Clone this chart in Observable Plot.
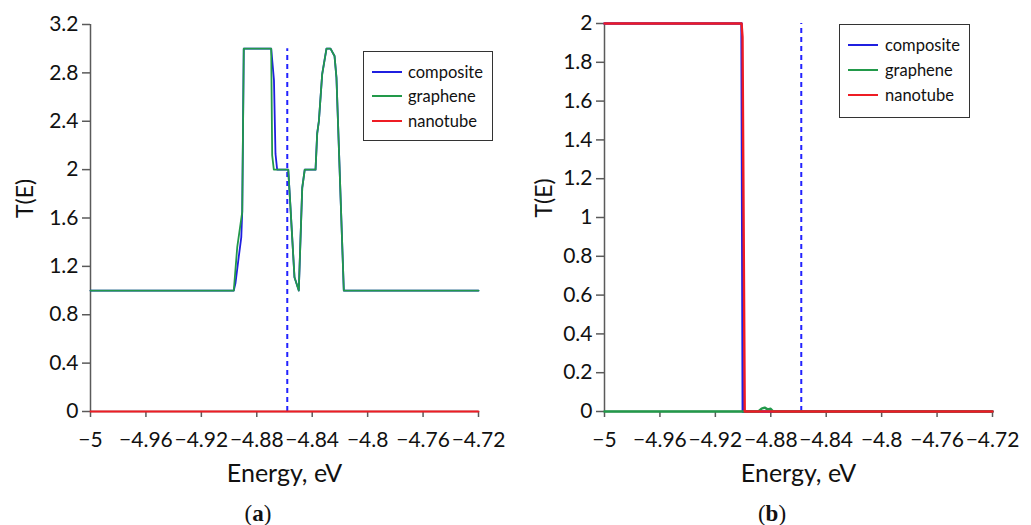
<!DOCTYPE html>
<html><head><meta charset="utf-8">
<script src="https://cdn.jsdelivr.net/npm/d3@7"></script>
<script src="https://cdn.jsdelivr.net/npm/@observablehq/plot@0.6"></script>
<style>
body{margin:0;background:#fff;}
#wrap{position:relative;width:1031px;height:525px;overflow:hidden;font-family:Lato,sans-serif;}
.panel{position:absolute;top:0;}
.legend{position:absolute;border:1.5px solid #333;box-sizing:border-box;background:#fff;}
.row{position:absolute;height:24px;display:flex;align-items:center;font-size:16.5px;color:#111;font-family:Lato,sans-serif;}
.sw{position:absolute;height:2px;top:11px;}
.lab{position:absolute;white-space:nowrap;}
.cap{position:absolute;font-family:"Liberation Serif",serif;font-size:23px;line-height:23px;transform:translateX(-50%);color:#111;}
</style></head>
<body><div id="wrap"></div>
<script>
// ---------- data ----------
const seriesNames = ["composite", "graphene", "nanotube"];
const seriesColors = ["#1f1fe0", "#22994a", "#ee1c24"];
const energyDomain = [-5, -4.72];
const energyTicks = [-5, -4.96, -4.92, -4.88, -4.84, -4.8, -4.76, -4.72];
const tTicksA = [0, 0.4, 0.8, 1.2, 1.6, 2, 2.4, 2.8, 3.2];
const tTicksB = [0, 0.2, 0.4, 0.6, 0.8, 1, 1.2, 1.4, 1.6, 1.8, 2];
const fermiEnergy = -4.858;
const panelLabels = ["a", "b"];

// panel (a)
const aCompositeE = [-5, -4.8966, -4.8954, -4.8930, -4.8912, -4.8905, -4.8894, -4.8696, -4.8676, -4.8665, -4.8653, -4.8573, -4.8557, -4.8528, -4.8497, -4.8472, -4.8454, -4.8376, -4.8364, -4.8352, -4.8328, -4.8297, -4.8268, -4.8239, -4.8225, -4.8172, -4.72];
const aCompositeT = [1, 1, 1.06, 1.28, 1.44, 1.65, 3, 3, 2.74, 2.13, 2, 2, 1.69, 1.11, 1, 1.85, 2, 2, 2.3, 2.4, 2.79, 3, 3, 2.94, 2.76, 1, 1];
const aGrapheneE = [-5, -4.8966, -4.8941, -4.8905, -4.8894, -4.8696, -4.8689, -4.8677, -4.8573, -4.8557, -4.8528, -4.8497, -4.8472, -4.8454, -4.8376, -4.8364, -4.8352, -4.8328, -4.8297, -4.8268, -4.8239, -4.8225, -4.8172, -4.72];
const aGrapheneT = [1, 1, 1.36, 1.65, 3, 3, 2.12, 2, 2, 1.69, 1.11, 1, 1.85, 2, 2, 2.3, 2.4, 2.79, 3, 3, 2.94, 2.76, 1, 1];
const aNanotubeE = [-5, -4.86, -4.72];
const aNanotubeT = [0, 0, 0];

// panel (b)
const bCompositeE = [-5, -4.9011, -4.9002, -4.72];
const bCompositeT = [2, 2, 0, 0];
const bGrapheneE = [-5, -4.8890, -4.8866, -4.8844, -4.8823, -4.8801, -4.8782, -4.72];
const bGrapheneT = [0, 0, 0.015, 0.02, 0.011, 0.014, 0, 0];
const bNanotubeE = [-5, -4.9011, -4.9004, -4.8988, -4.72];
const bNanotubeT = [2, 2, 1.93, 0, 0];

// ---------- helpers ----------
const zip = (E, T, s) => E.map((e, i) => ({E: e, T: T[i], s}));
const fmt = d => (d < 0 ? "\u2212" : "") + String(+Math.abs(d).toFixed(2));
const axisColor = "#5a5a5a";

function panel({left, width, mLeft, mTop, tDomain, tTicks, series, sw, ylabDx, legend, capX, label, fermiTop}) {
  const div = document.createElement("div");
  div.className = "panel";
  div.style.left = left + "px";
  const marks = [
    Plot.ruleX([fermiEnergy], {y1: 0, y2: fermiTop, stroke: "#2222ff", strokeWidth: 2, strokeDasharray: "5,4"}),
    Plot.ruleX([energyDomain[0]], {y1: tDomain[0], y2: tDomain[1], stroke: axisColor, strokeWidth: 1.5}),
    Plot.ruleY([0], {x1: energyDomain[0], x2: energyDomain[1], stroke: axisColor, strokeWidth: 1.5}),
    Plot.axisX({ticks: energyTicks, tickFormat: fmt, tickSize: 6, tickPadding: 15, stroke: axisColor, strokeWidth: 1.5, fill: "#111", fontSize: 21, label: null}),
    Plot.axisY({ticks: tTicks, tickFormat: fmt, tickSize: 8, tickPadding: 4, stroke: axisColor, strokeWidth: 1.5, fill: "#111", fontSize: 21, label: null}),
    ...series.map((d, i) => Plot.line(d, {x: "E", y: "T", stroke: seriesColors[i], strokeWidth: sw})),
    Plot.text(["Energy, eV"], {frameAnchor: "bottom", dy: 70, fontSize: 25, fill: "#111"}),
    Plot.text(["T(E)"], {frameAnchor: "left", dx: ylabDx, rotate: -90, fontSize: 23, fill: "#111"})
  ];
  const chart = Plot.plot({
    width, height: 495,
    marginLeft: mLeft, marginRight: width - mLeft - 388, marginTop: mTop, marginBottom: 84,
    x: {domain: energyDomain},
    y: {domain: tDomain},
    style: {fontFamily: "Lato, sans-serif", fontSize: "21px", background: "transparent", overflow: "visible"},
    marks
  });
  div.appendChild(chart);
  wrap.appendChild(div);

  // legend box
  const lg = document.createElement("div");
  lg.className = "legend";
  Object.assign(lg.style, {left: legend.x + "px", top: legend.y + "px", width: legend.w + "px", height: legend.h + "px"});
  seriesNames.forEach((n, i) => {
    const r = document.createElement("div");
    r.className = "row";
    r.style.top = (legend.rows[i] - 12) + "px";
    r.style.left = "0px";
    r.style.width = "100%";
    const s = document.createElement("div");
    s.className = "sw";
    Object.assign(s.style, {left: legend.swx + "px", width: "30px", background: seriesColors[i]});
    const t = document.createElement("div");
    t.className = "lab";
    t.style.left = legend.tx + "px";
    t.textContent = n;
    r.appendChild(s); r.appendChild(t);
    lg.appendChild(r);
  });
  wrap.appendChild(lg);

  const cap = document.createElement("div");
  cap.className = "cap";
  cap.style.left = capX + "px";
  cap.style.top = "502px";
  cap.innerHTML = "(<b>" + label + "</b>)";
  wrap.appendChild(cap);
}

const wrap = document.getElementById("wrap");

panel({
  left: 0, width: 515, mLeft: 90, mTop: 24,
  tDomain: [0, 3.2], tTicks: tTicksA, sw: 1.8, ylabDx: -65, fermiTop: 3,
  series: [zip(aCompositeE, aCompositeT), zip(aGrapheneE, aGrapheneT), zip(aNanotubeE, aNanotubeT)],
  legend: {x: 363, y: 51, w: 130, h: 90, rows: [19.5, 44, 68.5], swx: 7.5, tx: 44},
  capX: 258, label: panelLabels[0]
});
panel({
  left: 515, width: 516, mLeft: 89, mTop: 23,
  tDomain: [0, 2], tTicks: tTicksB, sw: 2.4, ylabDx: -60, fermiTop: 2,
  series: [zip(bCompositeE, bCompositeT), zip(bGrapheneE, bGrapheneT), zip(bNanotubeE, bNanotubeT)],
  legend: {x: 839, y: 24, w: 131, h: 94, rows: [20, 45, 70], swx: 7.5, tx: 45},
  capX: 772, label: panelLabels[1]
});
</script></body></html>
